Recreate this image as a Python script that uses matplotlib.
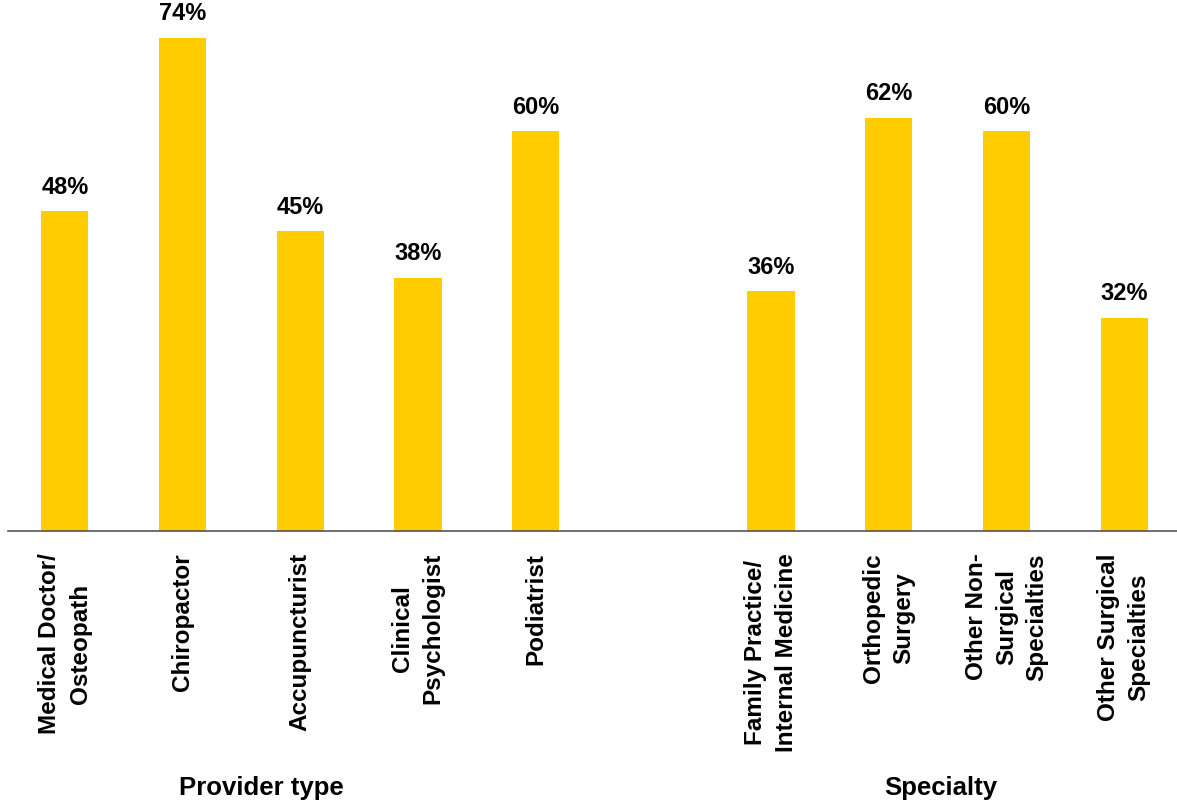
import matplotlib.pyplot as plt
import matplotlib.transforms as mtransforms

plt.rcParams['font.family'] = ['Liberation Sans', 'DejaVu Sans']
plt.rcParams['font.weight'] = 'bold'

# data
provider_labels = ['Medical Doctor/\nOsteopath', 'Chiropactor', 'Accupuncturist',
                   'Clinical\nPsychologist', 'Podiatrist']
provider_values = [48, 74, 45, 38, 60]
specialty_labels = ['Family Practice/\nInternal Medicine', 'Orthopedic\nSurgery',
                    'Other Non-\nSurgical\nSpecialties', 'Other Surgical\nSpecialties']
specialty_values = [36, 62, 60, 32]
group_names = ['Provider type', 'Specialty']

bar_color = '#FFCC00'

fig = plt.figure(figsize=(11.77, 8.08), dpi=100)
ax = fig.add_axes([8 / 1177, 277 / 808, 1 - 8 / 1177, 521 / 808])

# one empty slot between the two groups
pos_provider = list(range(len(provider_values)))
pos_specialty = [len(provider_values) + 1 + i for i in range(len(specialty_values))]
positions = pos_provider + pos_specialty
values = provider_values + specialty_values
labels = provider_labels + specialty_labels

bars = ax.bar(positions, values, width=0.4, color=bar_color, zorder=2)
for b, v in zip(bars, values):
    ax.annotate(f'{v}%', (b.get_x() + b.get_width() / 2, v),
                xytext=(0, 9), textcoords='offset points',
                ha='center', va='bottom', fontsize=17, fontweight='bold')

ax.set_xlim(-0.484, 9.45)
ax.set_ylim(0, 78.2)

ax.set_xticks(positions)
ax.set_xticklabels(labels, rotation=90, fontsize=17.5, fontweight='bold',
                   va='top', ha='center', multialignment='center', linespacing=1.4)
ax.tick_params(axis='x', length=0, pad=16)
ax.set_yticks([])

for s in ['top', 'right', 'left']:
    ax.spines[s].set_visible(False)
ax.spines['bottom'].set_color('#555555')
ax.spines['bottom'].set_linewidth(1.2)

# group labels under the tick labels
trans = mtransforms.blended_transform_factory(ax.transData, fig.transFigure)
ax.text(1.67, 1 - 788 / 808, group_names[0], transform=trans, ha='center', va='center',
        fontsize=18.5, fontweight='bold')
ax.text(7.44, 1 - 788 / 808, group_names[1], transform=trans, ha='center', va='center',
        fontsize=18.5, fontweight='bold')

fig.savefig('out.png', dpi=100)
